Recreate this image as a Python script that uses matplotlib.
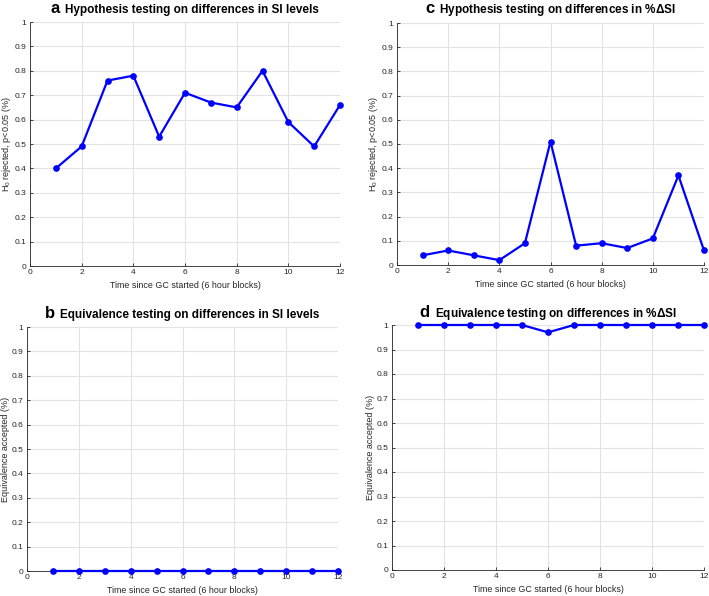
import numpy as np
import matplotlib
matplotlib.use('Agg')
import matplotlib.pyplot as plt

plt.rcParams['font.family'] = ['Liberation Sans', 'DejaVu Sans']
plt.rcParams['mathtext.fontset'] = 'custom'
plt.rcParams['mathtext.rm'] = 'Liberation Sans'
plt.rcParams['mathtext.it'] = 'Liberation Sans:italic'
plt.rcParams['mathtext.bf'] = 'Liberation Sans:bold'

# data
blocks = np.arange(1, 13)
reject_si = [0.40, 0.49, 0.76, 0.78, 0.53, 0.71, 0.67, 0.65, 0.80, 0.59, 0.49, 0.66]
equiv_si = [0, 0, 0, 0, 0, 0, 0, 0, 0, 0, 0, 0]
reject_dsi = [0.04, 0.06, 0.04, 0.02, 0.09, 0.51, 0.08, 0.09, 0.07, 0.11, 0.37, 0.06]
equiv_dsi = [1, 1, 1, 1, 1, 0.97, 1, 1, 1, 1, 1, 1]

letters = ['a', 'b', 'c', 'd']
titles = ['Hypothesis testing on differences in SI levels',
          'Equivalence testing on differences in SI levels',
          'Hypothesis testing on differences in %$\\mathbf{\\Delta}$SI',
          'Equivalence testing on differences in %$\\mathbf{\\Delta}$SI']
ylabels = ['H$_0$ rejected, p<0.05 (%)', 'Equivalence accepted (%)',
           'H$_0$ rejected, p<0.05 (%)', 'Equivalence accepted (%)']
series = [reject_si, equiv_si, reject_dsi, equiv_dsi]
xlabel = 'Time since GC started (6 hour blocks)'

W, H = 709, 596
# axes boxes in pixels: left, right, top, bottom
boxes = [(30, 340, 22, 266), (27, 338, 327, 571),
         (397, 704, 23, 265), (392, 704, 325, 570)]
title_y = [13, 318, 13, 317]   # baseline of titles (px from top)

fig = plt.figure(figsize=(W / 100, H / 100), dpi=100)
axes = []
for (l, r, t, b), vals, yl in zip(boxes, series, ylabels):
    ax = fig.add_axes([l / W, 1 - b / H, (r - l) / W, (b - t) / H])
    ax.plot(blocks, vals, color=(0, 0, 1), lw=1.6, marker='o', ms=3.8, clip_on=False, zorder=3)
    ax.set_xlim(0, 12)
    ax.set_ylim(0, 1)
    ax.set_xticks(np.arange(0, 13, 2))
    ax.set_yticks(np.arange(0, 1.01, 0.1))
    ax.set_yticklabels(['0'] + ['%.1f' % v for v in np.arange(0.1, 0.95, 0.1)] + ['1'])
    ax.grid(True, color='#e3e3e3', lw=0.8)
    ax.set_axisbelow(True)
    for s in ['top', 'right']:
        ax.spines[s].set_visible(False)
    for s in ['left', 'bottom']:
        ax.spines[s].set_color('#262626')
        ax.spines[s].set_linewidth(0.6)
    ax.tick_params(direction='in', length=2.5, width=0.6, labelsize=6, colors='#262626', pad=2.5)
    ax.set_xlabel(xlabel, fontsize=6.4, color='#262626', labelpad=3)
    ax.set_ylabel(yl, fontsize=6.5, color='#262626', labelpad=1)
    axes.append(ax)

# panel letter + bold title, centred together over each axes
renderer = fig.canvas.get_renderer()
gap = 5
for (l, r, t, b), ty, letter, title in zip(boxes, title_y, letters, titles):
    lt = fig.text(0, 1 - ty / H, letter, fontsize=12, fontweight='bold', ha='left', va='baseline')
    tt = fig.text(0, 1 - ty / H, title, fontsize=8.5, fontweight='bold', ha='left', va='baseline')
    lw_ = lt.get_window_extent(renderer).width
    tw_ = tt.get_window_extent(renderer).width
    x0 = (l + r) / 2 - (lw_ + gap + tw_) / 2
    lt.set_x(x0 / W)
    tt.set_x((x0 + lw_ + gap) / W)

fig.savefig('out.png', dpi=100)
